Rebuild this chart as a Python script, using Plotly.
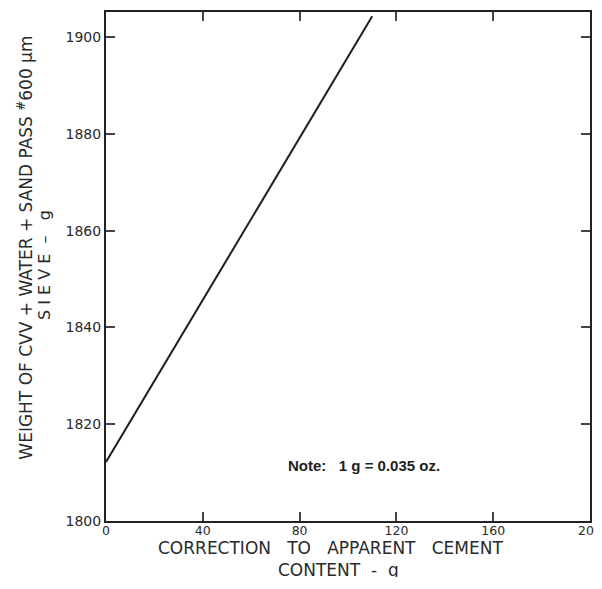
import plotly.graph_objects as go

# Data
x_vals = [0, 110]
y_vals = [1812.2, 1904.3]
x_ticks = [0, 40, 80, 120, 160, 200]
y_ticks = [1800, 1820, 1840, 1860, 1880, 1900]
note_text = "Note:   1 g = 0.035 oz."
x_title = ["CORRECTION   TO   APPARENT   CEMENT", "CONTENT  -  g"]
y_title = ["WEIGHT OF CVV + WATER + SAND PASS <sup>#</sup>600 μm", "S I E V E  –   g"]

FONT = "DejaVu Sans"
INK = "#2a2a2a"

fig = go.Figure()
fig.add_trace(go.Scatter(x=x_vals, y=y_vals, mode="lines",
                         line=dict(color="#1e1e1e", width=2), showlegend=False))

fig.add_annotation(x=106.6, y=1811.5, text="<b>" + note_text + "</b>", showarrow=False,
                   font=dict(family="Liberation Sans", size=15, color="#1e1e1e"))

axis_common = dict(showline=True, linecolor="#222222", linewidth=2, mirror="ticks",
                   ticks="inside", ticklen=9, tickwidth=2, tickcolor="#444444",
                   showgrid=False, zeroline=False, ticklabeloverflow="allow")

fig.update_xaxes(range=[0, 200], tickvals=x_ticks, ticklabelstandoff=-3,
                 tickfont=dict(family=FONT, size=12.5, color=INK), **axis_common)
fig.update_yaxes(range=[1800, 1905.2], tickvals=y_ticks,
                 tickfont=dict(family=FONT, size=14, color=INK), **axis_common)

# Axis titles as annotations
fig.add_annotation(xref="paper", yref="paper", x=0.463, y=0, yshift=-27,
                   xanchor="center", yanchor="middle",
                   text=x_title[0], showarrow=False,
                   font=dict(family=FONT, size=17, color=INK))
fig.add_annotation(xref="paper", yref="paper", x=0.48, y=0, yshift=-49,
                   xanchor="center", yanchor="middle",
                   text=x_title[1], showarrow=False,
                   font=dict(family=FONT, size=17, color=INK))
fig.add_annotation(xref="paper", yref="paper", x=0, xshift=-81, y=0.537,
                   xanchor="center", yanchor="middle",
                   text=y_title[0], showarrow=False, textangle=-90,
                   font=dict(family=FONT, size=17, color=INK))
fig.add_annotation(xref="paper", yref="paper", x=0, xshift=-61, y=0.503,
                   xanchor="center", yanchor="middle",
                   text=y_title[1], showarrow=False, textangle=-90,
                   font=dict(family=FONT, size=16, color=INK))

fig.update_layout(width=594, height=569,
                  margin=dict(l=98, r=12, t=4, b=56, autoexpand=False),
                  plot_bgcolor="white", paper_bgcolor="white")

fig.write_html("out.html")
